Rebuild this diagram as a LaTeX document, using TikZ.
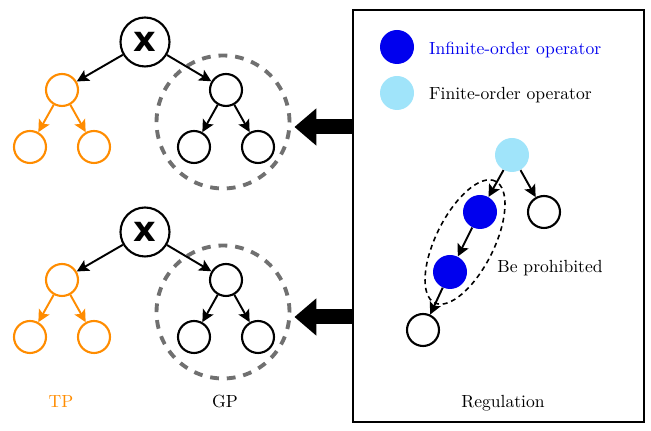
\documentclass[tikz,border=0pt]{standalone}
\usepackage{fontspec}
\newfontfamily\xfont{DejaVu Sans}
\usetikzlibrary{
    arrows.meta,
    positioning
}
\definecolor{tporange}{RGB}{255,140,0}
\definecolor{opblue}{RGB}{0,0,238}
\definecolor{oplight}{RGB}{160,228,250}
\definecolor{ringgray}{RGB}{112,112,112}

\begin{document}
\begin{tikzpicture}[x=0.02cm, y=0.02cm,
    op/.style={circle, draw, line width=1.2pt, minimum size=0.64cm, inner sep=0pt},
    tpop/.style={op, draw=tporange},
    rootop/.style={op, minimum size=0.98cm, font=\xfont\bfseries\fontsize{20}{20}\selectfont},
    ring/.style={circle, draw=ringgray, line width=2.2pt, dash pattern=on 5pt off 4.5pt, minimum size=2.66cm, inner sep=0pt},
    edge/.style={-{Stealth[length=0.24cm, width=0.24cm, inset=0.05cm]}, line width=1.1pt},
    tpedge/.style={edge, color=tporange},
    bigarrow/.style={-{Triangle[length=0.44cm, width=0.72cm]}, line width=0.3cm, shorten >=0.06cm},
    fullop/.style={circle, fill=opblue, minimum size=0.68cm, inner sep=0pt},
    finop/.style={circle, fill=oplight, minimum size=0.68cm, inner sep=0pt}
]
    \useasboundingbox (0,0) rectangle (651,431);

    % upper tree
    \node[rootop] (rootA) at (145,389) {x};
    \node[tpop] (tpA)  at (62,341) {};
    \node[tpop] (tpAl) at (30,284) {};
    \node[tpop] (tpAr) at (94,284) {};
    \node[op] (gpA)  at (226,341) {};
    \node[op] (gpAl) at (194,284) {};
    \node[op] (gpAr) at (258,284) {};
    \node[ring] (ringA) at (223,309) {};
    \draw[edge] (rootA) -- (tpA);
    \draw[edge] (rootA) -- (gpA);
    \draw[tpedge] (tpA) -- (tpAl);
    \draw[tpedge] (tpA) -- (tpAr);
    \draw[edge] (gpA) -- (gpAl);
    \draw[edge] (gpA) -- (gpAr);

    % lower tree
    \node[rootop] (rootB) at (145,199) {x};
    \node[tpop] (tpB)  at (62,151) {};
    \node[tpop] (tpBl) at (30,94) {};
    \node[tpop] (tpBr) at (94,94) {};
    \node[op] (gpB)  at (226,151) {};
    \node[op] (gpBl) at (194,94) {};
    \node[op] (gpBr) at (258,94) {};
    \node[ring] (ringB) at (223,119) {};
    \draw[edge] (rootB) -- (tpB);
    \draw[edge] (rootB) -- (gpB);
    \draw[tpedge] (tpB) -- (tpBl);
    \draw[tpedge] (tpB) -- (tpBr);
    \draw[edge] (gpB) -- (gpBl);
    \draw[edge] (gpB) -- (gpBr);

    \node[text=tporange] (tplabel) at (61,29) {TP};
    \node (gplabel) at (225,29) {GP};

    % regulation box
    \node[draw, line width=1.2pt, minimum width=5.82cm, minimum height=8.24cm] (regbox) at (498.5,215) {};
    \coordinate (tipA) at ([yshift=-0.1cm]ringA.east);
    \coordinate (tipB) at ([yshift=-0.1cm]ringB.east);
    \draw[bigarrow] (regbox.west |- tipA) -- (tipA);
    \draw[bigarrow] (regbox.west |- tipB) -- (tipB);

    \node[fullop] (fullkey) at (397,384) {};
    \node[finop] (finkey) at (397,338) {};
    \node[anchor=west, text=opblue] (fulltxt) at (423,381) {Infinite-order operator};
    \node[anchor=west] (fintxt) at (423,336) {Finite-order operator};

    \node[finop] (fin) at (512,276) {};
    \node[fullop] (fullA) at (480,219) {};
    \node[op] (leafA) at (544,219) {};
    \node[fullop] (fullB) at (450,159) {};
    \node[op] (leafB) at (423,101) {};
    \draw[edge] (fin) -- (fullA);
    \draw[edge] (fin) -- (leafA);
    \draw[edge] (fullA) -- (fullB);
    \draw[edge] (fullB) -- (leafB);
    \draw[line width=0.9pt, dash pattern=on 2.8pt off 2.2pt, rotate around={63.4:(465,189)}] (465,189) ellipse [x radius=1.36cm, y radius=0.58cm];

    \node (prohibit) at (550,163) {Be prohibited};
    \node (reglabel) at (503,28) {Regulation};
\end{tikzpicture}
\end{document}
